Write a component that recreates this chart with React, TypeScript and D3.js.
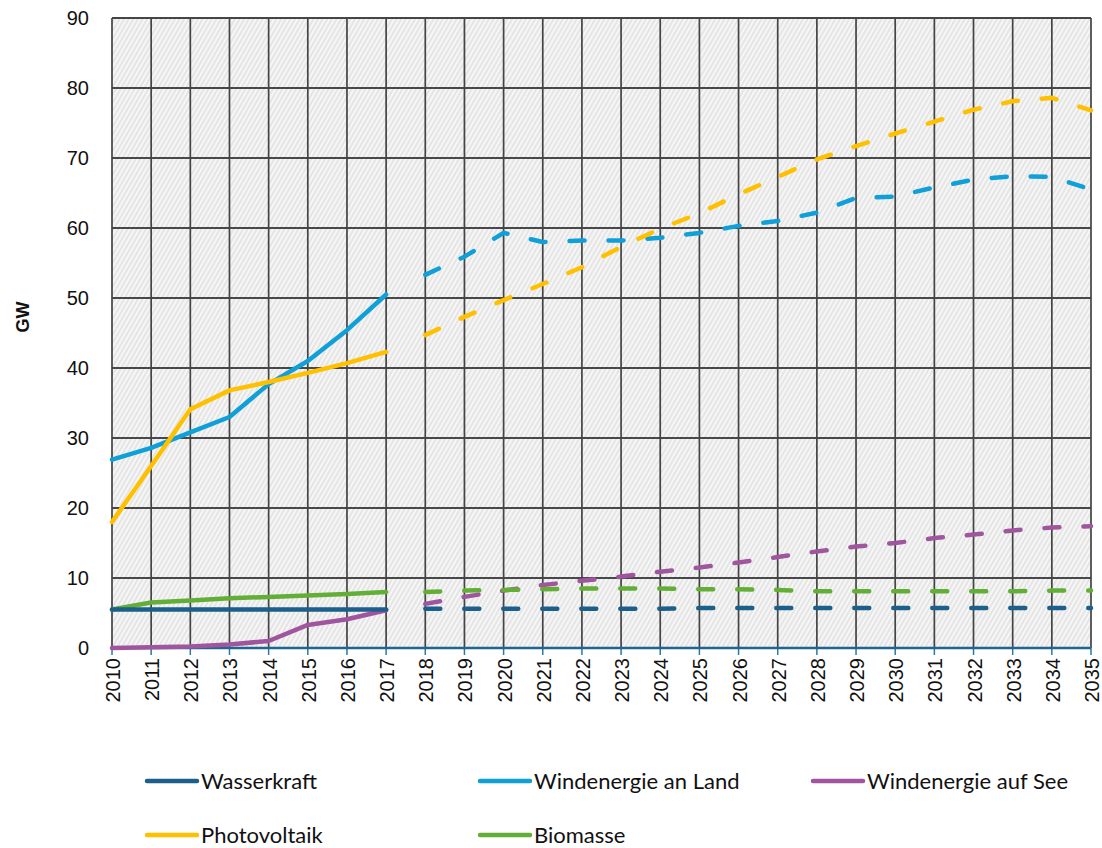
import React from "react";
import * as d3 from "d3";

const years = d3.range(2010, 2036).map(String);
const histYears = years.slice(0, 8);
const projYears = years.slice(8);

const seriesNames = ["Wasserkraft", "Windenergie an Land", "Windenergie auf See", "Photovoltaik", "Biomasse"];
const seriesColors = ["#1c5f8a", "#0fa0d8", "#a0569e", "#ffc000", "#62ae36"];

const wasserHist = [5.5, 5.5, 5.5, 5.5, 5.5, 5.5, 5.5, 5.5];
const wasserProj = [5.6, 5.6, 5.6, 5.6, 5.6, 5.6, 5.6, 5.7, 5.7, 5.7, 5.7, 5.7, 5.7, 5.7, 5.7, 5.7, 5.7, 5.7];
const landHist = [26.9, 28.6, 30.8, 33.0, 37.7, 41.0, 45.4, 50.5];
const landProj = [53.3, 55.9, 59.3, 58.0, 58.2, 58.2, 58.6, 59.3, 60.3, 61.0, 62.2, 64.3, 64.5, 65.8, 66.9, 67.4, 67.3, 65.5];
const seeHist = [0.0, 0.1, 0.2, 0.5, 1.0, 3.3, 4.1, 5.4];
const seeProj = [6.3, 7.3, 8.2, 9.0, 9.6, 10.2, 10.9, 11.5, 12.2, 13.0, 13.8, 14.5, 15.0, 15.7, 16.2, 16.8, 17.2, 17.4];
const pvHist = [18.0, 26.0, 34.1, 36.8, 38.0, 39.3, 40.7, 42.3];
const pvProj = [44.7, 47.3, 49.7, 52.0, 54.4, 57.3, 59.9, 62.1, 64.8, 67.3, 69.8, 71.7, 73.5, 75.2, 76.9, 78.1, 78.6, 76.8];
const bioHist = [5.5, 6.5, 6.8, 7.1, 7.3, 7.5, 7.7, 8.0];
const bioProj = [8.0, 8.2, 8.3, 8.4, 8.5, 8.5, 8.5, 8.4, 8.4, 8.3, 8.1, 8.1, 8.1, 8.1, 8.1, 8.1, 8.2, 8.2];

const yTicks = [0, 10, 20, 30, 40, 50, 60, 70, 80, 90];

const W = 1102;
const H = 848;
const M = { left: 112, right: 1091, top: 18, bottom: 648 };
const AXIS_FONT = "'Liberation Sans', Arial, sans-serif";
const LEGEND_FONT = "Lato, 'Open Sans', sans-serif";

export default function App() {
  const x = d3.scalePoint<string>().domain(years).range([M.left, M.right]);
  const y = d3.scaleLinear().domain([0, 90]).range([M.bottom, M.top]);
  const line = d3
    .line<[string, number]>()
    .x((d) => x(d[0]) as number)
    .y((d) => y(d[1]));

  const hist = [wasserHist, landHist, seeHist, pvHist, bioHist];
  const proj = [wasserProj, landProj, seeProj, pvProj, bioProj];
  const drawOrder = [1, 3, 2, 4, 0];

  const legendItems = [
    { i: 0, x: 147, y: 781 },
    { i: 1, x: 480, y: 781 },
    { i: 2, x: 813, y: 781 },
    { i: 3, x: 147, y: 835 },
    { i: 4, x: 480, y: 835 },
  ];

  return (
    <svg
      width={W}
      height={H}
      style={{ position: "absolute", left: 0, top: 0, background: "#fff" }}
    >
      <defs>
        <pattern id="hatch" width="4" height="4" patternUnits="userSpaceOnUse" patternTransform="rotate(30)">
          <rect width="4" height="4" fill="#f6f6f6" />
          <line x1="1" y1="0" x2="1" y2="4" stroke="#dcdcdc" strokeWidth="1.3" />
        </pattern>
      </defs>
      <rect x={M.left} y={M.top} width={M.right - M.left} height={M.bottom - M.top} fill="url(#hatch)" />
      {yTicks.map((t) => (
        <line key={"h" + t} x1={M.left} x2={M.right} y1={y(t)} y2={y(t)} stroke="#111" strokeWidth={1.5} />
      ))}
      {years.map((yr) => (
        <line key={"v" + yr} x1={x(yr)} x2={x(yr)} y1={M.top} y2={M.bottom} stroke="#444" strokeWidth={1.7} />
      ))}
      <line x1={M.left} x2={M.right} y1={M.top} y2={M.top} stroke="#444" strokeWidth={1.7} />
      {years.map((yr) => (
        <line key={"t" + yr} x1={x(yr)} x2={x(yr)} y1={M.bottom} y2={M.bottom + 7} stroke="#2a7aa5" strokeWidth={1.5} />
      ))}
      <line x1={M.left} x2={M.right} y1={M.bottom} y2={M.bottom} stroke="#1c6690" strokeWidth={2.5} />
      {yTicks.map((t) => (
        <text key={"yl" + t} x={89} y={y(t)} dy="0.36em" textAnchor="end" fontFamily={AXIS_FONT} fontSize={20} fill="#111">
          {t}
        </text>
      ))}
      {years.map((yr) => (
        <text
          key={"xl" + yr}
          transform={`translate(${(x(yr) as number) + 8},${M.bottom + 10}) rotate(-90)`}
          textAnchor="end"
          fontFamily={AXIS_FONT}
          fontSize={20}
          fill="#111"
        >
          {yr}
        </text>
      ))}
      <text
        transform={`translate(29,317) rotate(-90)`}
        textAnchor="middle"
        fontFamily={AXIS_FONT}
        fontWeight="bold"
        fontSize={18}
        fill="#111"
      >
        GW
      </text>
      {drawOrder.map((i) => (
        <g key={"s" + i}>
          <path
            d={line(histYears.map((yr, k) => [yr, hist[i][k]] as [string, number])) || ""}
            fill="none"
            stroke={seriesColors[i]}
            strokeWidth={4.5}
            strokeLinecap="round"
            strokeLinejoin="round"
          />
          <path
            d={line(projYears.map((yr, k) => [yr, proj[i][k]] as [string, number])) || ""}
            fill="none"
            stroke={seriesColors[i]}
            strokeWidth={4.5}
            strokeLinecap="round"
            strokeLinejoin="round"
            strokeDasharray="15 24"
          />
        </g>
      ))}
      {legendItems.map((it) => (
        <g key={"lg" + it.i}>
          <line x1={it.x} x2={it.x + 50} y1={it.y} y2={it.y} stroke={seriesColors[it.i]} strokeWidth={4.5} strokeLinecap="round" />
          <text x={it.x + 54} y={it.y} dy="0.35em" fontFamily={LEGEND_FONT} fontSize={22} fill="#111">
            {seriesNames[it.i]}
          </text>
        </g>
      ))}
    </svg>
  );
}
